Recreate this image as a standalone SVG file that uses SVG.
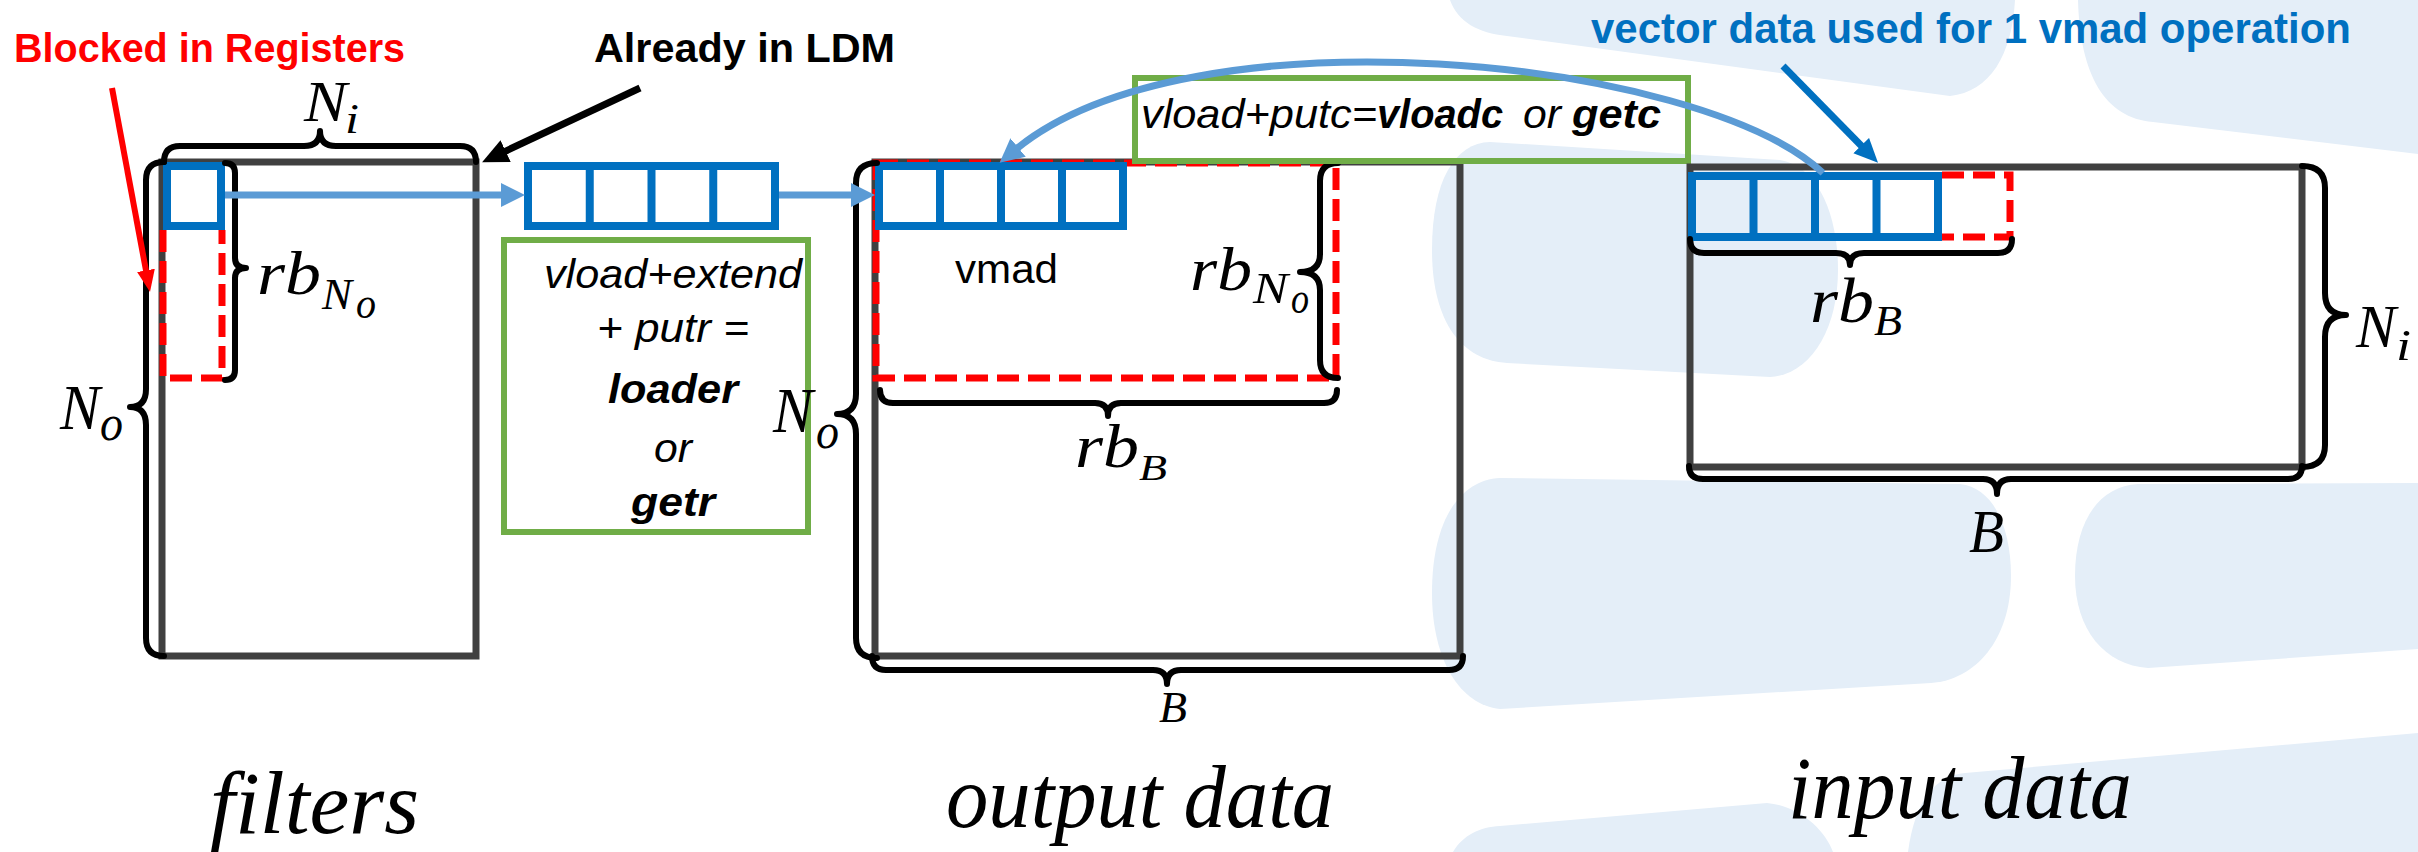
<svg xmlns="http://www.w3.org/2000/svg" width="2418" height="852" viewBox="0 0 2418 852">
  <style>
    .bg { fill: #E4EEF8; }
    .box { fill: none; stroke: #404040; stroke-width: 7; }
    .cell { fill: none; stroke: #0070C0; stroke-width: 8; }
    .reg { fill: none; stroke: #FF0000; stroke-width: 7; stroke-dasharray: 22 9; }
    .grn { fill: none; stroke: #70AD47; stroke-width: 6; }
    .brace { fill: none; stroke: #000; stroke-width: 6; stroke-linecap: round; stroke-linejoin: round; }
    .lb { fill: none; stroke: #5B9BD5; stroke-width: 7; }
    .math { font-family: "Liberation Serif", "DejaVu Serif", serif; font-style: italic; fill: #000; }
    .sans { font-family: "Liberation Sans", Arial, sans-serif; }
    .op { font-family: "Liberation Sans", Arial, sans-serif; font-style: italic; font-size: 40px; fill: #000; }
    .title { font-family: "Liberation Serif", "DejaVu Serif", serif; font-style: italic; font-size: 88px; fill: #000; }
  </style>
  <defs>
    <marker id="ahL" markerUnits="userSpaceOnUse" markerWidth="24" markerHeight="26" refX="4" refY="13" orient="auto">
      <path d="M0,1 L24,13 L0,25 Z" fill="#5B9BD5"/>
    </marker>
    <marker id="ahRed" markerUnits="userSpaceOnUse" markerWidth="22" markerHeight="18" refX="4" refY="9" orient="auto">
      <path d="M0,0 L22,9 L0,18 Z" fill="#FF0000"/>
    </marker>
    <marker id="ahBlack" markerUnits="userSpaceOnUse" markerWidth="26" markerHeight="24" refX="4" refY="12" orient="auto">
      <path d="M0,0 L26,12 L0,24 Z" fill="#000"/>
    </marker>
    <marker id="ahBlue" markerUnits="userSpaceOnUse" markerWidth="24" markerHeight="22" refX="4" refY="11" orient="auto">
      <path d="M0,0 L24,11 L0,22 Z" fill="#0070C0"/>
    </marker>
  </defs>

  <rect x="0" y="0" width="2418" height="852" fill="#fff"/>

  <!-- watermark bands -->
  <g id="watermark">
    <path class="bg" d="M1450,0 C1458,22 1478,33 1507,36 L1950,96 C1990,92 2012,55 2015,0 Z"/>
    <path class="bg" d="M2078,0 C2080,75 2105,118 2153,122 L2418,154 L2418,0 Z"/>
    <path class="bg" d="M1490,142 L1780,160 C1818,166 1838,215 1838,270 C1838,330 1810,375 1770,377 L1507,363 C1460,360 1432,320 1432,250 C1432,180 1455,143 1490,142 Z"/>
    <path class="bg" d="M1500,478 L1960,484 C1995,488 2011,530 2011,576 C2011,640 1975,680 1931,683 L1500,709 C1460,705 1432,660 1432,593 C1432,520 1460,480 1500,478 Z"/>
    <path class="bg" d="M2075,576 C2075,520 2100,486 2138,484 L2418,483 L2418,649 L2148,668 C2105,665 2075,630 2075,576 Z"/>
    <path class="bg" d="M1908,852 C1915,800 1935,776 1965,773 L2418,733 L2418,852 Z"/>
    <path class="bg" d="M1453,852 C1463,835 1480,827 1500,826 L1767,803 C1800,806 1825,830 1833,852 Z"/>
  </g>

  <!-- filters matrix -->
  <g id="filters">
    <rect class="box" x="162" y="162" width="314" height="494"/>
    <path class="reg" d="M163,230 V378 H222 V230"/>
    <rect class="cell" x="167" y="166" width="54" height="60"/>
    <path class="brace" d="M164,162 Q164,146 180,146 L304,146 Q320,146 320,131 Q320,146 336,146 L460,146 Q476,146 476,162"/>
    <path class="brace" d="M164,162 Q146,162 146,180 L146,389 Q146,407 130,407 Q146,407 146,425 L146,638 Q146,656 164,656"/>
    <path class="brace" d="M225,163 Q235,163 235,173 L235,258 Q235,268 246,268 Q235,268 235,278 L235,370 Q235,380 225,380"/>
    <text class="math" x="304" y="121" font-size="56" textLength="43" lengthAdjust="spacingAndGlyphs">N</text>
    <text class="math" x="345" y="133" font-size="42" textLength="14" lengthAdjust="spacingAndGlyphs">i</text>
    <text class="math" x="257" y="294" font-size="62" textLength="64" lengthAdjust="spacingAndGlyphs">rb</text>
    <text class="math" x="322" y="309" font-size="44" textLength="30" lengthAdjust="spacingAndGlyphs">N</text>
    <text class="math" x="356" y="318" font-size="44" textLength="20" lengthAdjust="spacingAndGlyphs">o</text>
    <text class="math" x="60" y="429" font-size="64" textLength="40" lengthAdjust="spacingAndGlyphs">N</text>
    <text class="math" x="100" y="440" font-size="50" textLength="23" lengthAdjust="spacingAndGlyphs">o</text>
    <text class="title" x="210" y="833" textLength="209" lengthAdjust="spacingAndGlyphs">filters</text>
  </g>

  <!-- register vector between filters and output -->
  <g id="regvec">
    <rect class="cell" x="528" y="166" width="247" height="60"/>
    <line class="cell" x1="589.75" y1="166" x2="589.75" y2="226"/>
    <line class="cell" x1="651.5" y1="166" x2="651.5" y2="226"/>
    <line class="cell" x1="713.25" y1="166" x2="713.25" y2="226"/>
  </g>

  <!-- loader / getr note -->
  <g id="loadnote">
    <rect class="grn" x="504" y="240" width="304" height="292"/>
    <text class="op" x="673" y="288" text-anchor="middle" textLength="258" lengthAdjust="spacingAndGlyphs">vload+extend</text>
    <text class="op" x="673" y="342" text-anchor="middle" textLength="152" lengthAdjust="spacingAndGlyphs">+ putr =</text>
    <text class="op" x="673" y="403" text-anchor="middle" font-weight="bold" textLength="130" lengthAdjust="spacingAndGlyphs">loader</text>
    <text class="op" x="673" y="462" text-anchor="middle" textLength="38" lengthAdjust="spacingAndGlyphs">or</text>
    <text class="op" x="673" y="516" text-anchor="middle" font-weight="bold" textLength="84" lengthAdjust="spacingAndGlyphs">getr</text>
  </g>

  <!-- output data matrix -->
  <g id="output">
    <rect class="box" x="875" y="162" width="585" height="494"/>
    <rect class="reg" x="876" y="163" width="460" height="215"/>
    <rect class="cell" x="879" y="166" width="244" height="60"/>
    <line class="cell" x1="940" y1="166" x2="940" y2="226"/>
    <line class="cell" x1="1001" y1="166" x2="1001" y2="226"/>
    <line class="cell" x1="1062" y1="166" x2="1062" y2="226"/>
    <text class="sans" x="955" y="283" font-size="40" textLength="103" lengthAdjust="spacingAndGlyphs">vmad</text>
    <path class="brace" d="M877,163 Q856,163 856,183 L856,394 Q856,414 837,414 Q856,414 856,434 L856,638 Q856,658 877,658"/>
    <path class="brace" d="M1338,163 Q1320,163 1320,181 L1320,254 Q1320,272 1300,272 Q1320,272 1320,290 L1320,360 Q1320,378 1338,378"/>
    <path class="brace" d="M880,390 Q880,403 893,403 L1095,403 Q1108,403 1108,416 Q1108,403 1121,403 L1324,403 Q1337,403 1337,390"/>
    <path class="brace" d="M872,656 Q872,670 886,670 L1153,670 Q1167,670 1167,684 Q1167,670 1181,670 L1449,670 Q1463,670 1463,656"/>
    <text class="math" x="773" y="432" font-size="64" textLength="40" lengthAdjust="spacingAndGlyphs">N</text>
    <text class="math" x="816" y="448" font-size="50" textLength="23" lengthAdjust="spacingAndGlyphs">o</text>
    <text class="math" x="1190" y="290" font-size="62" textLength="62" lengthAdjust="spacingAndGlyphs">rb</text>
    <text class="math" x="1253" y="303" font-size="44" textLength="35" lengthAdjust="spacingAndGlyphs">N</text>
    <text class="math" x="1291" y="313" font-size="44" textLength="18" lengthAdjust="spacingAndGlyphs">o</text>
    <text class="math" x="1075" y="467" font-size="62" textLength="64" lengthAdjust="spacingAndGlyphs">rb</text>
    <text class="math" x="1139" y="480" font-size="36" textLength="28" lengthAdjust="spacingAndGlyphs">B</text>
    <text class="math" x="1159" y="722" font-size="44" textLength="28" lengthAdjust="spacingAndGlyphs">B</text>
    <text class="title" x="946" y="827" textLength="388" lengthAdjust="spacingAndGlyphs">output data</text>
  </g>

  <!-- vloadc / getc note -->
  <g id="colnote">
    <rect class="grn" x="1135" y="78" width="553" height="83"/>
    <text class="op" x="1141" y="128" textLength="236" lengthAdjust="spacingAndGlyphs">vload+putc=</text>
    <text class="op" x="1377" y="128" font-weight="bold" textLength="126" lengthAdjust="spacingAndGlyphs">vloadc</text>
    <text class="op" x="1523" y="128" textLength="38" lengthAdjust="spacingAndGlyphs">or</text>
    <text class="op" x="1572" y="128" font-weight="bold" textLength="89" lengthAdjust="spacingAndGlyphs">getc</text>
  </g>

  <!-- input data matrix -->
  <g id="input">
    <rect class="box" x="1690" y="167" width="612" height="300"/>
    <path class="reg" d="M1942,175 H2010 V237 H1942"/>
    <rect class="cell" x="1692" y="176" width="246" height="61"/>
    <line class="cell" x1="1753.5" y1="176" x2="1753.5" y2="237"/>
    <line class="cell" x1="1815" y1="176" x2="1815" y2="237"/>
    <line class="cell" x1="1876.5" y1="176" x2="1876.5" y2="237"/>
    <path class="brace" d="M1690,239 Q1690,253 1704,253 L1836,253 Q1850,253 1850,265 Q1850,253 1864,253 L1998,253 Q2012,253 2012,239"/>
    <path class="brace" d="M2302,166 Q2325,166 2325,188 L2325,293 Q2325,315 2346,315 Q2325,315 2325,337 L2325,445 Q2325,467 2302,467"/>
    <path class="brace" d="M1689,466 Q1689,479 1703,479 L1983,479 Q1997,479 1997,494 Q1997,479 2011,479 L2288,479 Q2302,479 2302,466"/>
    <text class="math" x="1810" y="322" font-size="64" textLength="64" lengthAdjust="spacingAndGlyphs">rb</text>
    <text class="math" x="1874" y="335" font-size="42" textLength="28" lengthAdjust="spacingAndGlyphs">B</text>
    <text class="math" x="2356" y="347" font-size="62" textLength="40" lengthAdjust="spacingAndGlyphs">N</text>
    <text class="math" x="2396" y="360" font-size="44" textLength="15" lengthAdjust="spacingAndGlyphs">i</text>
    <text class="math" x="1969" y="552" font-size="62" textLength="35" lengthAdjust="spacingAndGlyphs">B</text>
    <text class="title" x="1788" y="818" textLength="344" lengthAdjust="spacingAndGlyphs">input data</text>
  </g>

  <!-- callouts -->
  <g id="callout-registers">
    <text class="sans" x="14" y="62" font-size="41" font-weight="bold" fill="#FF0000" textLength="391" lengthAdjust="spacingAndGlyphs">Blocked in Registers</text>
  </g>
  <g id="callout-ldm">
    <text class="sans" x="594" y="62" font-size="41" font-weight="bold" fill="#000" textLength="301" lengthAdjust="spacingAndGlyphs">Already in LDM</text>
  </g>
  <g id="callout-vector">
    <text class="sans" x="1591" y="43" font-size="43" font-weight="bold" fill="#0070C0" textLength="760" lengthAdjust="spacingAndGlyphs">vector data used for 1 vmad operation</text>
  </g>

  <!-- connectors -->
  <g id="connectors">
    <line class="lb" x1="225" y1="195" x2="505" y2="195" marker-end="url(#ahL)"/>
    <line class="lb" x1="779" y1="195" x2="855" y2="195" marker-end="url(#ahL)"/>
    <path class="lb" d="M1823,173 C1700,58 1190,5 1015,150" marker-end="url(#ahL)"/>
    <line x1="112" y1="88" x2="146.7" y2="274.3" stroke="#FF0000" stroke-width="6" marker-end="url(#ahRed)"/>
    <line x1="640" y1="88" x2="502" y2="152.8" stroke="#000" stroke-width="7" marker-end="url(#ahBlack)"/>
    <line x1="1783" y1="66" x2="1864" y2="148.5" stroke="#0070C0" stroke-width="7" marker-end="url(#ahBlue)"/>
  </g>
</svg>
